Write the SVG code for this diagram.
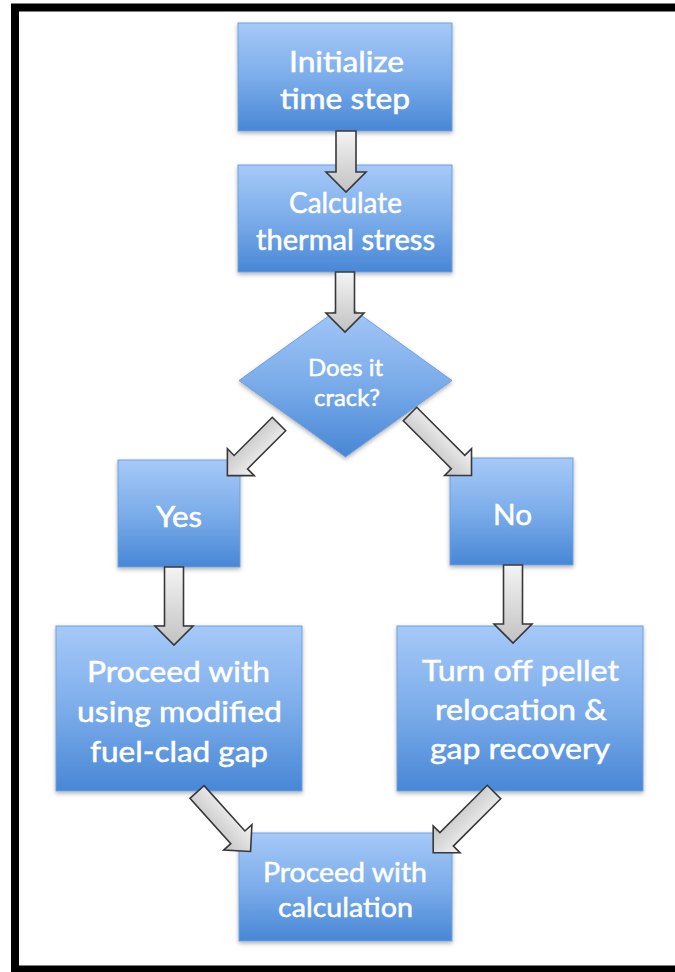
<svg xmlns="http://www.w3.org/2000/svg" width="675" height="972" viewBox="0 0 675 972">
<defs>
<linearGradient id="blue" x1="0" y1="0" x2="0" y2="1">
<stop offset="0" stop-color="#a6c9f8"/>
<stop offset="0.5" stop-color="#7cadea"/>
<stop offset="1" stop-color="#4887d6"/>
</linearGradient>
<linearGradient id="gray" x1="0" y1="0" x2="0" y2="1">
<stop offset="0" stop-color="#f4f4f4"/>
<stop offset="1" stop-color="#c2c2c2"/>
</linearGradient>
<filter id="sh" x="-10%" y="-10%" width="120%" height="130%">
<feDropShadow dx="0" dy="2" stdDeviation="2" flood-color="#000" flood-opacity="0.3"/>
</filter>
</defs>
<style>
.box{fill:url(#blue);stroke:#6e9fe0;stroke-width:1;filter:url(#sh)}
.arr{fill:url(#gray);stroke:#383838;stroke-width:1.6;stroke-linejoin:miter}
.t{font-family:"Lato","Open Sans",sans-serif;fill:#ffffff;stroke:#ffffff;stroke-width:0.5;text-anchor:middle}
.f28{font-size:28px}
.f29{font-size:29px}
.f26{font-size:26px}
.f24{font-size:24px}
</style>
<rect width="675" height="972" fill="#ffffff"/>
<rect x="15" y="7.5" width="700" height="962" fill="none" stroke="#000000" stroke-width="8"/>
<g id="nodes">
<g id="n-init">
<rect class="box" x="238" y="23" width="214" height="108"/>
<text class="t f28" x="346.5" y="72" textLength="115" lengthAdjust="spacingAndGlyphs">Initialize</text>
<text class="t f28" x="345" y="109" textLength="130" lengthAdjust="spacingAndGlyphs">time step</text>
</g>
<g id="n-calc">
<rect class="box" x="238" y="165" width="214" height="107"/>
<text class="t f28" x="345.5" y="213" textLength="113" lengthAdjust="spacingAndGlyphs">Calculate</text>
<text class="t f28" x="345.5" y="250" textLength="179" lengthAdjust="spacingAndGlyphs">thermal stress</text>
</g>
<g id="n-crack">
<polygon class="box" points="345.5,304 452,380.5 345.5,457 239,380.5"/>
<text class="t f24" x="345.5" y="376" textLength="75" lengthAdjust="spacingAndGlyphs">Does it</text>
<text class="t f24" x="347" y="406" textLength="66" lengthAdjust="spacingAndGlyphs">crack?</text>
</g>
<g id="n-yes">
<rect class="box" x="118" y="460" width="122" height="107"/>
<text class="t f29" x="179" y="527" textLength="46" lengthAdjust="spacingAndGlyphs">Yes</text>
</g>
<g id="n-no">
<rect class="box" x="450" y="458" width="123" height="107"/>
<text class="t f29" x="512.5" y="525" textLength="39" lengthAdjust="spacingAndGlyphs">No</text>
</g>
<g id="n-proceed-gap">
<rect class="box" x="56" y="626" width="246" height="165"/>
<text class="t f29" x="178.5" y="682" textLength="183" lengthAdjust="spacingAndGlyphs">Proceed with</text>
<text class="t f29" x="179.5" y="722" textLength="205" lengthAdjust="spacingAndGlyphs">using modified</text>
<text class="t f29" x="179" y="762" textLength="178" lengthAdjust="spacingAndGlyphs">fuel-clad gap</text>
</g>
<g id="n-turnoff">
<rect class="box" x="397" y="626" width="246" height="165"/>
<text class="t f29" x="520.5" y="681" textLength="197" lengthAdjust="spacingAndGlyphs">Turn off pellet</text>
<text class="t f29" x="521" y="720" textLength="172" lengthAdjust="spacingAndGlyphs">relocation &amp;</text>
<text class="t f29" x="520" y="759" textLength="180" lengthAdjust="spacingAndGlyphs">gap recovery</text>
</g>
<g id="n-final">
<rect class="box" x="239" y="833" width="213" height="108"/>
<text class="t f26" x="345" y="882" textLength="164" lengthAdjust="spacingAndGlyphs">Proceed with</text>
<text class="t f26" x="345.5" y="917" textLength="135" lengthAdjust="spacingAndGlyphs">calculation</text>
</g>
</g>
<g id="connectors">
<polygon class="arr" points="336,131 356,131 356,172 366,172 346,192 326,172 336,172"/>
<polygon class="arr" points="335.5,272 354.5,272 354.5,313 364,313 345,332 326,313 335.5,313"/>
<polygon class="arr" points="164.5,567 183.5,567 183.5,626 193,626 174,645 155,626 164.5,626"/>
<polygon class="arr" points="503.5,565 522.5,565 522.5,624 532,624 513,643 494,624 503.5,624"/>
<g transform="translate(279,424) rotate(135)">
<polygon class="arr" points="0,-9.5 54,-9.5 54,-19 73,0 54,19 54,9.5 0,9.5"/>
</g>
<g transform="translate(410,414) rotate(45)">
<polygon class="arr" points="0,-9.5 68,-9.5 68,-19 87,0 68,19 68,9.5 0,9.5"/>
</g>
<g transform="translate(197,792) rotate(48)">
<polygon class="arr" points="0,-9.5 61,-9.5 61,-19 80,0 61,19 61,9.5 0,9.5"/>
</g>
<g transform="translate(494,792) rotate(135)">
<polygon class="arr" points="0,-9.5 67,-9.5 67,-19 86,0 67,19 67,9.5 0,9.5"/>
</g>
</g>
</svg>
